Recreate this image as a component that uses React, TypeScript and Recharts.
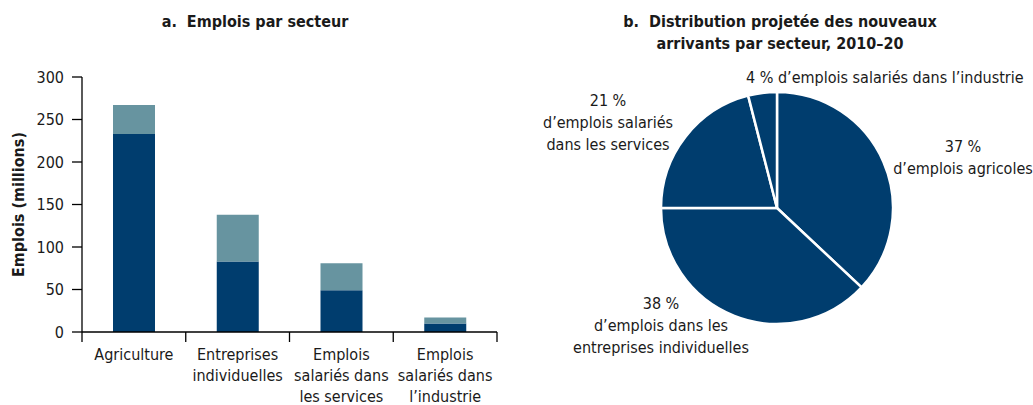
import { BarChart, Bar, XAxis, YAxis, PieChart, Pie, Cell } from 'recharts';

const categories = [
  'Agriculture',
  'Entreprises\nindividuelles',
  'Emplois\nsalariés dans\nles services',
  'Emplois\nsalariés dans\nl’industrie',
];
const darkValues = [233, 83, 49, 10];
const lightValues = [34, 55, 32, 7];
const yTicks = [0, 50, 100, 150, 200, 250, 300];

const pieNames = ['agricoles', 'entreprises', 'services', 'industrie'];
const pieShares = [37, 38, 21, 4];

const FONT = "'Liberation Sans Narrow', 'DejaVu Sans Condensed', sans-serif";
const DARK = '#003d6e';
const LIGHT = '#6794a0';

const barData = categories.map((name, i) => ({
  name,
  dark: darkValues[i],
  light: lightValues[i],
}));

const pieData = pieNames.map((name, i) => ({ name, value: pieShares[i] }));

// category label plus tick marks on the band edges
function CategoryTick(props: any) {
  const { x, y, payload, index, width, visibleTicksCount } = props;
  const lines = String(payload.value).split('\n');
  const count = visibleTicksCount || categories.length;
  const half = width / count / 2;
  return (
    <g>
      <line x1={x - half} x2={x - half} y1={y} y2={y + 10} stroke="#000" strokeWidth={1.3} />
      {index === count - 1 && (
        <line x1={x + half} x2={x + half} y1={y} y2={y + 10} stroke="#000" strokeWidth={1.3} />
      )}
      {lines.map((line: string, i: number) => (
        <text
          key={i}
          x={x}
          y={y + 16 + i * 21}
          textAnchor="middle"
          dominantBaseline="hanging"
          fontSize={16}
          fontFamily={FONT}
          fill="#1a1a1a"
        >
          {line}
        </text>
      ))}
    </g>
  );
}

const labelStyle: React.CSSProperties = {
  position: 'absolute',
  fontFamily: FONT,
  fontSize: 16,
  color: '#1a1a1a',
  textAlign: 'center',
  lineHeight: '22px',
  whiteSpace: 'nowrap',
};

const titleStyle: React.CSSProperties = {
  position: 'absolute',
  fontFamily: FONT,
  fontSize: 16,
  fontWeight: 'bold',
  color: '#1a1a1a',
  textAlign: 'center',
  lineHeight: '22px',
  whiteSpace: 'nowrap',
};

export default function App() {
  return (
    <div style={{ position: 'absolute', left: 0, top: 0, width: 1033, height: 405, background: 'white', overflow: 'hidden' }}>
      <div style={{ ...titleStyle, left: 155, top: 11, width: 200 }}>a.&nbsp;&nbsp;Emplois par secteur</div>

      <div style={{ position: 'absolute', left: 0, top: 0 }}>
        <BarChart
          width={510}
          height={405}
          data={barData}
          margin={{ top: 77, right: 13, left: 0, bottom: 0 }}
          barSize={42}
        >
          <XAxis
            dataKey="name"
            interval={0}
            tick={<CategoryTick />}
            tickLine={false}
            tickSize={0}
            tickMargin={0}
            axisLine={{ stroke: '#000', strokeWidth: 1.3 }}
            height={73}
          />
          <YAxis
            width={82}
            domain={[0, 300]}
            ticks={yTicks}
            tickSize={10}
            tickMargin={8}
            tick={{ fontSize: 16, fontFamily: FONT, fill: '#1a1a1a' }}
            tickLine={{ stroke: '#000', strokeWidth: 1.3 }}
            axisLine={{ stroke: '#000', strokeWidth: 1.3 }}
            label={{
              value: 'Emplois (millions)',
              angle: -90,
              position: 'insideLeft',
              offset: 18,
              style: { fontSize: 16, fontWeight: 'bold', fontFamily: FONT, fill: '#1a1a1a', textAnchor: 'middle' },
            }}
          />
          <Bar dataKey="dark" stackId="a" fill={DARK} isAnimationActive={false} />
          <Bar dataKey="light" stackId="a" fill={LIGHT} isAnimationActive={false} />
        </BarChart>
      </div>

      <div style={{ ...titleStyle, left: 580, top: 11, width: 400 }}>
        b.&nbsp;&nbsp;Distribution projetée des nouveaux
        <br />
        arrivants par secteur, 2010–20
      </div>

      <div style={{ position: 'absolute', left: 520, top: 0 }}>
        <PieChart width={513} height={405} margin={{ top: 0, right: 0, bottom: 0, left: 0 }}>
          <Pie
            data={pieData}
            dataKey="value"
            cx={257}
            cy={208}
            outerRadius={116}
            startAngle={90}
            endAngle={-270}
            stroke="#ffffff"
            strokeWidth={2.5}
            isAnimationActive={false}
          >
            {pieData.map((d) => (
              <Cell key={d.name} fill={DARK} />
            ))}
          </Pie>
        </PieChart>
      </div>

      <div style={{ ...labelStyle, left: 746, top: 67 }}>4 % d’emplois salariés dans l’industrie</div>
      <div style={{ ...labelStyle, left: 893, top: 136, width: 140 }}>
        37 %
        <br />
        d’emplois agricoles
      </div>
      <div style={{ ...labelStyle, left: 538, top: 90, width: 140 }}>
        21 %
        <br />
        d’emplois salariés
        <br />
        dans les services
      </div>
      <div style={{ ...labelStyle, left: 571, top: 293, width: 180 }}>
        38 %
        <br />
        d’emplois dans les
        <br />
        entreprises individuelles
      </div>
    </div>
  );
}
